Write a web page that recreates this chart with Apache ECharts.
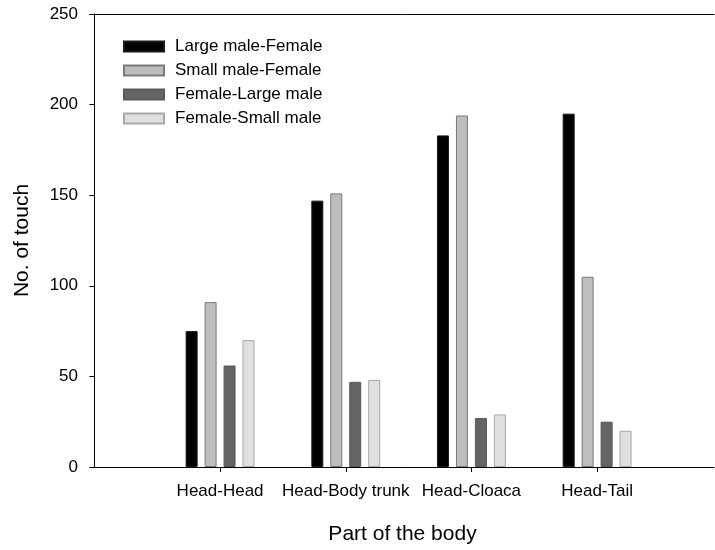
<!DOCTYPE html>
<html>
<head>
<meta charset="utf-8">
<script src="https://cdn.jsdelivr.net/npm/echarts@6/dist/echarts.min.js"></script>
<style>
  html, body { margin: 0; padding: 0; background: #fff; }
  #chart { width: 715px; height: 550px; }
</style>
</head>
<body>
<div id="chart"></div>
<script>
// Contact counts by body part, for each pairing
const categories = ['Head-Head', 'Head-Body trunk', 'Head-Cloaca', 'Head-Tail'];
const seriesNames = ['Large male-Female', 'Small male-Female', 'Female-Large male', 'Female-Small male'];
const largeMaleFemale = [75, 147, 183, 195];
const smallMaleFemale = [91, 151, 194, 105];
const femaleLargeMale = [56, 47, 27, 25];
const femaleSmallMale = [70, 48, 29, 20];
const yTicks = [0, 50, 100, 150, 200, 250];

const FONT = '"Liberation Sans", Arial, sans-serif';
const positions = categories.map((c, i) => i + 1);

const styles = [
  { color: '#000000', borderColor: '#1a1a1a', borderWidth: 1 },
  { color: '#bdbdbd', borderColor: '#7a7a7a', borderWidth: 1 },
  { color: '#646464', borderColor: '#5a5a5a', borderWidth: 1 },
  { color: '#e0e0e0', borderColor: '#a8a8a8', borderWidth: 1 }
];
const values = [largeMaleFemale, smallMaleFemale, femaleLargeMale, femaleSmallMale];

const chart = echarts.init(document.getElementById('chart'), null, { renderer: 'canvas' });

chart.setOption({
  animation: false,
  backgroundColor: '#ffffff',
  textStyle: { fontFamily: FONT },
  grid: { left: 91, right: 1, top: 14, bottom: 82, containLabel: false },
  legend: {
    orient: 'vertical',
    left: 118,
    top: 33,
    itemWidth: 40,
    itemHeight: 10,
    itemGap: 7,
    icon: 'rect',
    data: seriesNames,
    textStyle: { fontFamily: FONT, fontSize: 17, lineHeight: 17, color: '#000', padding: [0, 0, 0, 6] }
  },
  xAxis: [
    {
      type: 'value',
      min: -0.027,
      max: 4.93,
      position: 'bottom',
      name: 'Part of the body',
      nameLocation: 'middle',
      nameGap: 57,
      nameTextStyle: { fontFamily: FONT, fontSize: 21, color: '#000' },
      splitLine: { show: false },
      axisLine: { show: true, lineStyle: { color: '#000', width: 1 } },
      axisTick: { show: true, length: 5, inside: false, customValues: positions, lineStyle: { color: '#000' } },
      axisLabel: {
        customValues: positions,
        fontFamily: FONT, fontSize: 17, color: '#000', margin: 16,
        formatter: v => categories[Math.round(v) - 1] || ''
      }
    },
    {
      type: 'value',
      min: -0.027,
      max: 4.93,
      position: 'top',
      splitLine: { show: false },
      axisLine: { show: true, onZero: false, lineStyle: { color: '#000', width: 1 } },
      axisTick: { show: false },
      axisLabel: { show: false }
    }
  ],
  yAxis: {
    type: 'value',
    min: 0,
    max: 250,
    interval: 50,
    name: 'No. of touch',
    nameLocation: 'middle',
    nameGap: 58,
    nameRotate: 90,
    nameTextStyle: { fontFamily: FONT, fontSize: 21, color: '#000' },
    splitLine: { show: false },
    axisLine: { show: true, lineStyle: { color: '#000', width: 1 } },
    axisTick: { show: true, length: 5, inside: false, lineStyle: { color: '#000' } },
    axisLabel: {
      fontFamily: FONT, fontSize: 17, color: '#000', margin: 13,
      formatter: v => (yTicks.indexOf(v) >= 0 ? String(v) : '')
    }
  },
  series: seriesNames.map((name, s) => ({
    name: name,
    type: 'bar',
    xAxisIndex: 0,
    barWidth: 12,
    barGap: '58%',
    itemStyle: styles[s],
    data: values[s].map((v, i) => [positions[i], v])
  }))
});
</script>
</body>
</html>
